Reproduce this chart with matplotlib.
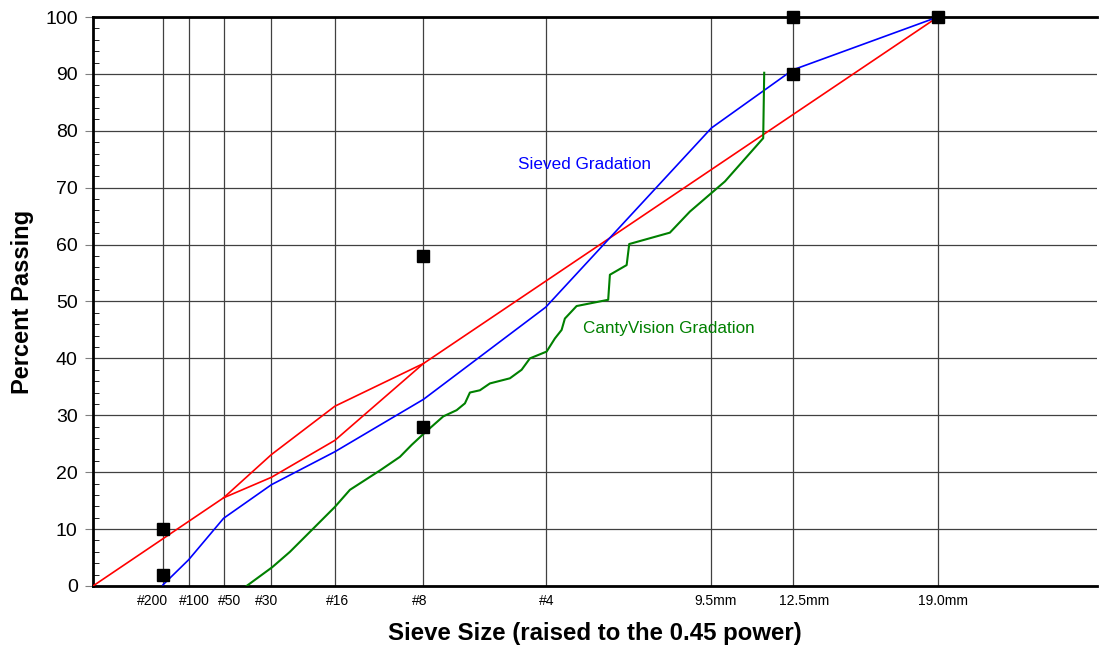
import numpy as np
import matplotlib
matplotlib.use("Agg")
import matplotlib.pyplot as plt
import matplotlib.transforms as transforms
from matplotlib.ticker import MultipleLocator

plt.rcParams['font.family'] = ['Liberation Sans', 'DejaVu Sans']

PWR = 0.45

# sieve sizes (mm) and labels
sieve_mm = [0.075, 0.15, 0.3, 0.6, 1.18, 2.36, 4.75, 9.5, 12.5, 19.0]
sieve_lbl = ['#200', '#100', '#50', '#30', '#16', '#8', '#4', '9.5mm', '12.5mm', '19.0mm']
lbl_shift_px = [-10, 6, 6, -5, 3, -4, 1, 4, 11, 5]

# Superpave control points (12.5 mm NMAS)
ctrl_mm = [0.075, 0.075, 2.36, 2.36, 12.5, 12.5, 19.0]
ctrl_pp = [2, 10, 28, 58, 90, 100, 100]

# maximum density line, upper edge of restricted zone
mdl_mm = [0.0, 0.3, 0.6, 1.18, 2.36, 19.0]
mdl_pp = [0, 15.5, 23.1, 31.6, 39.1, 100]
# lower edge of restricted zone
rz_mm = [0.3, 0.6, 1.18, 2.36]
rz_pp = [15.5, 19.1, 25.6, 39.1]

# sieved gradation
sieved_mm = [0.075, 0.15, 0.3, 0.6, 1.18, 2.36, 4.75, 9.5, 12.5, 19.0]
sieved_pp = [0.2, 4.6, 11.9, 17.8, 23.6, 32.8, 49.0, 80.5, 90.7, 100]

# CantyVision gradation
canty_mm = [0.430, 0.606, 0.747, 0.942, 1.180, 1.349, 1.724, 2.003, 2.177, 2.367,
            2.685, 2.919, 3.069, 3.161, 3.351, 3.546, 3.955, 4.206, 4.389, 4.771,
            4.966, 5.128, 5.208, 5.500, 6.330, 6.377, 6.845, 6.919, 8.139, 8.779,
            9.966, 11.357, 11.395]
canty_pp = [0.0, 3.3, 6.0, 9.8, 13.9, 16.9, 20.3, 22.7, 24.8, 26.8,
            29.8, 30.9, 32.1, 34.0, 34.4, 35.6, 36.5, 38.0, 40.0, 41.2,
            43.5, 45.0, 47.0, 49.2, 50.3, 54.7, 56.4, 60.1, 62.1, 65.8,
            71.1, 78.7, 90.2]

def tx(v):
    return np.array(v) ** PWR

fig = plt.figure(figsize=(10.99, 6.49), dpi=100)
ax = fig.add_axes([0.0846, 0.0971, 0.9134, 0.8767])

ax.plot(tx(mdl_mm), mdl_pp, color='#ff0000', lw=1.2, zorder=3)
ax.plot(tx(rz_mm), rz_pp, color='#ff0000', lw=1.2, zorder=3)
ax.plot(tx(sieved_mm), sieved_pp, color='#0000ff', lw=1.2, zorder=3)
ax.plot(tx(canty_mm), canty_pp, color='#008000', lw=1.5, zorder=3)
ax.plot(tx(ctrl_mm), ctrl_pp, 's', color='black', ms=8.5, zorder=4, clip_on=False)

ax.text(2.19, 74.0, 'Sieved Gradation', color='#0000ff', fontsize=12.3, ha='center', va='center')
ax.text(2.565, 45.2, 'CantyVision Gradation', color='#008000', fontsize=12.3, ha='center', va='center')

ax.set_xlim(0, 4.47)
ax.set_ylim(0, 100)
ax.set_xticks(tx(sieve_mm))
ax.set_xticklabels(sieve_lbl, fontsize=10)
ax.tick_params(axis='x', length=0, pad=6)
for lab, dx in zip(ax.get_xticklabels(), lbl_shift_px):
    lab.set_transform(lab.get_transform() + transforms.ScaledTranslation(dx / 100, 0, fig.dpi_scale_trans))
ax.yaxis.set_major_locator(MultipleLocator(10))
ax.yaxis.set_minor_locator(MultipleLocator(2))
ax.tick_params(axis='y', which='major', direction='out', length=6, color='#808080',
               labelsize=14, pad=5)
ax.tick_params(axis='y', which='minor', direction='in', length=4, color='black')

ax.grid(True, which='major', color='#404040', lw=0.9)
ax.axhline(100, color='black', lw=2, zorder=2, clip_on=False)

ax.spines['right'].set_visible(False)
ax.spines['top'].set_visible(False)
ax.spines['left'].set_linewidth(2)
ax.spines['bottom'].set_linewidth(2)

ax.set_xlabel('Sieve Size (raised to the 0.45 power)', fontsize=17.3, fontweight='bold', labelpad=10)
ax.set_ylabel('Percent Passing', fontsize=17, fontweight='bold', labelpad=8)

fig.savefig('out.png', dpi=100)
